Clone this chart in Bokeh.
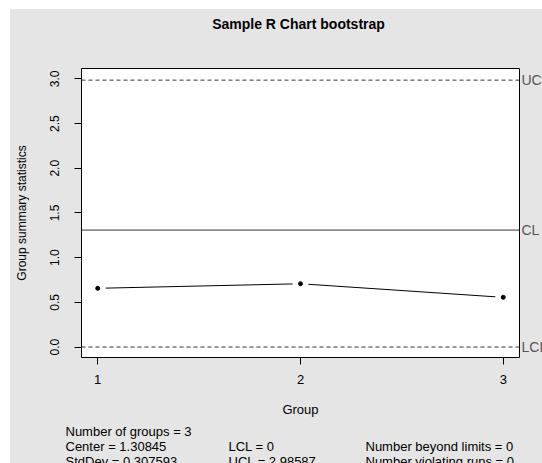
from bokeh.plotting import figure
from bokeh.models import Range1d, FixedTicker, Label, Span, CustomJSTickFormatter, Spacer
from bokeh.layouts import row, column
from bokeh.embed import file_html
from bokeh.resources import INLINE

# ---- data ----
title_text = "Sample R Chart bootstrap"
groups = [1, 2, 3]
group_stats = [0.657, 0.708, 0.556]
center = 1.30845
lcl = 0.0
ucl = 2.98587
std_dev = 0.307593
y_ticks = [0.0, 0.5, 1.0, 1.5, 2.0, 2.5, 3.0]
x_ticks = [1, 2, 3]
limit_labels = ["UCL", "CL", "LCL"]
stats_columns = [
    ["Number of groups = 3", "Center = 1.30845", "StdDev = 0.307593"],
    ["", "LCL = 0", "UCL = 2.98587"],
    ["", "Number beyond limits = 0", "Number violating runs = 0"],
]

FONT = "Liberation Sans"
BG = "#e5e5e5"
TOP, BOTTOM = 1, 63
MAIN_H = 353


def strip(width, height, xr, yr, **kw):
    f = figure(width=width, height=height, output_backend="svg", toolbar_location=None,
               x_range=xr, y_range=yr, x_axis_location=None, y_axis_location=None, **kw)
    f.background_fill_color = BG
    f.border_fill_color = BG
    f.outline_line_color = None
    f.grid.visible = False
    return f


# top strip with the title (page pixel coordinates)
t = strip(532, 58, Range1d(10, 542), Range1d(67, 9), min_border=0)
t.add_layout(Label(x=298, y=23.7, text=title_text, text_font=FONT, text_font_size="14px",
                   text_font_style="bold", text_color="black",
                   text_baseline="middle", text_align="center"))

p = figure(width=511, height=MAIN_H, output_backend="svg", toolbar_location=None,
           x_range=Range1d(0.92, 3.08), y_range=Range1d(-0.117, 3.116),
           min_border_left=71, min_border_right=2, min_border_top=TOP, min_border_bottom=BOTTOM)

p.background_fill_color = "white"
p.border_fill_color = BG
p.outline_line_color = "black"
p.outline_line_width = 1
p.grid.visible = False

for ax in (p.xaxis[0], p.yaxis[0]):
    ax.axis_line_color = None
    ax.major_tick_in = 0
    ax.major_tick_out = 7
    ax.major_tick_line_color = "black"
    ax.minor_tick_line_color = None
    ax.major_label_text_font = FONT
    ax.major_label_text_color = "black"
    ax.axis_label_text_font = FONT
    ax.axis_label_text_font_style = "normal"
    ax.axis_label_text_color = "black"

p.xaxis.ticker = FixedTicker(ticks=x_ticks)
p.xaxis.axis_label = "Group"
p.xaxis.axis_label_text_font_size = "13px"
p.xaxis.major_label_text_font_size = "13px"
p.xaxis.major_label_standoff = 10
p.xaxis.axis_label_standoff = 15

p.yaxis.ticker = FixedTicker(ticks=y_ticks)
p.yaxis.axis_label = "Group summary statistics"
p.yaxis.axis_label_text_font_size = "12px"
p.yaxis.major_label_text_font_size = "12px"
p.yaxis.major_label_orientation = "vertical"
p.yaxis.major_label_standoff = 15
p.yaxis.axis_label_standoff = 19
p.yaxis.formatter = CustomJSTickFormatter(code="return tick.toFixed(1);")

# control limits
p.add_layout(Span(location=ucl, dimension="width", line_color="#333333", line_width=1, line_dash="4 3"))
p.add_layout(Span(location=lcl, dimension="width", line_color="#333333", line_width=1, line_dash="4 3"))
p.add_layout(Span(location=center, dimension="width", line_color="#333333", line_width=1))

# data: line with gaps around the points (R type "b")
p.line(groups, group_stats, line_color="black", line_width=1)
p.scatter(groups, group_stats, size=16, fill_color="white", line_color=None)
p.scatter(groups, group_stats, size=4, fill_color="black", line_color="black")

# right strip with limit labels (shares the y range, clipped at the window edge)
r = strip(21, MAIN_H, Range1d(0, 21), p.y_range,
          min_border_left=0, min_border_right=0, min_border_top=TOP, min_border_bottom=BOTTOM)
for lab, yv in zip(limit_labels, [ucl, center, lcl]):
    r.add_layout(Label(x=0, y=yv, text=lab, text_font=FONT, text_font_size="14px",
                       text_color="#555555", text_baseline="middle", text_align="left"))

# bottom strip with summary statistics (page pixel coordinates)
s = strip(532, 43, Range1d(10, 542), Range1d(463, 420), min_border=0)
col_x = [65, 228, 365]
row_y = [430.7, 446, 460.5]
for cx, col in zip(col_x, stats_columns):
    for ry, txt in zip(row_y, col):
        if txt:
            s.add_layout(Label(x=cx, y=ry, text=txt, text_font=FONT, text_font_size="13px",
                               text_color="black", text_baseline="middle", text_align="left"))

inner = column(t, row(p, r, spacing=0, styles={"background-color": BG}), s,
               spacing=0, styles={"background-color": BG})
layout = column(Spacer(height=9), row(Spacer(width=10), inner, spacing=0), spacing=0)

open("out.html", "w").write(file_html(layout, INLINE))
